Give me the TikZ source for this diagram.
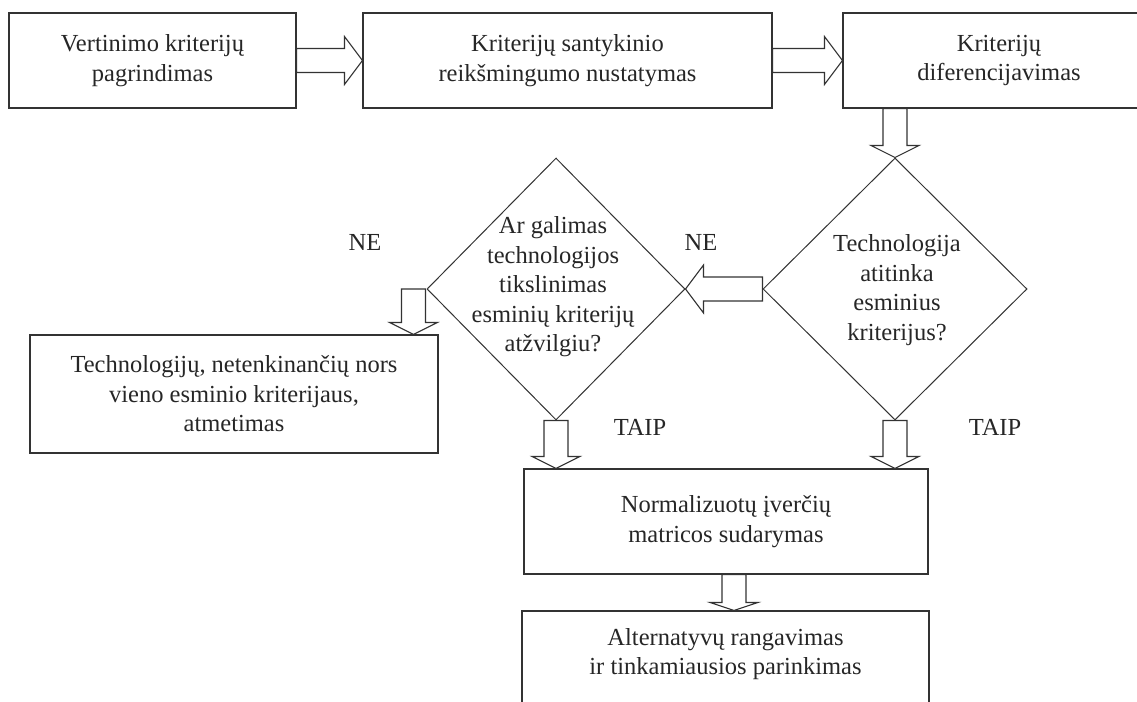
\documentclass[tikz,border=0pt]{standalone}
\usepackage{fontspec}
\setmainfont{Liberation Serif}
\usetikzlibrary{shapes.geometric,calc}

% hollow block arrow: from, to, head length
\newcommand{\fatarrow}[3]{%
  \draw[fat] let \p1=(#1), \p2=(#2),
      \n1={atan2(\y2-\y1,\x2-\x1)}, \n2={veclen(\x2-\x1,\y2-\y1)} in
      [shift={(\p1)}, rotate=\n1]
      (0,-12) -- ({\n2-#3},-12) -- ({\n2-#3},-24) -- (\n2,0)
      -- ({\n2-#3},24) -- ({\n2-#3},12) -- (0,12) -- cycle;}

\tikzset{
  txt/.style={align=center, inner sep=0pt,
    font=\fontsize{24.5}{29.5}\selectfont, text=black!85},
  box/.style={txt, draw=black!80, line width=1.1pt, rectangle},
  decision/.style={draw=black!80, line width=1pt, diamond, inner sep=0pt},
  fat/.style={draw=black!80, line width=1.1pt, fill=white}
}

\begin{document}
\begin{tikzpicture}[x=1pt, y=1pt]
    \useasboundingbox (0,0) rectangle (1137,-701);
    \clip (0,0) rectangle (1137,-701);

    % Top row
    \node [box,
        minimum width=287pt,
        minimum height=95pt]
        (crit) at (152.5,-60.5) {Vertinimo kriterijų\\pagrindimas};
    \node [box,
        minimum width=409pt,
        minimum height=95pt]
        (signif) at (567.5,-60.5) {Kriterijų santykinio\\reikšmingumo nustatymas};
    \node [box,
        minimum width=312pt,
        minimum height=95pt]
        (diff) at (999,-60.5) {Kriterijų\\diferencijavimas};

    % Decisions
    \node [decision,
        minimum width=264pt,
        minimum height=262pt]
        (match) at (895,-289) {};
    \node [decision,
        minimum width=258pt,
        minimum height=262pt]
        (refine) at (556,-289) {};
    \node [txt] (matchtxt) at (897,-290)
        {Technologija\\atitinka\\esminius\\kriterijus?};
    \node [txt] (refinetxt) at (553,-287)
        {Ar galimas\\technologijos\\tikslinimas\\esminių kriterijų\\atžvilgiu?};

    % Lower boxes
    \node [box,
        minimum width=408pt,
        minimum height=118pt]
        (reject) at (234,-394) {Technologijų, netenkinančių nors\\vieno esminio kriterijaus,\\atmetimas};
    \node [box,
        minimum width=404pt,
        minimum height=105pt]
        (norm) at (726,-521.5) {Normalizuotų įverčių\\matricos sudarymas};
    \node [box,
        minimum width=407pt,
        minimum height=110pt]
        (rank) at (725.5,-666) {};
    \node [txt] (ranktxt) at (725.5,-654)
        {Alternatyvų rangavimas\\ir tinkamiausios parinkimas};

    % Labels
    \node [txt] (ne1) at (365,-242) {NE};
    \node [txt] (ne2) at (701,-242) {NE};
    \node [txt] (taip1) at (640,-427) {TAIP};
    \node [txt] (taip2) at (995,-427) {TAIP};

    % Arrows
    \fatarrow{crit.east}{signif.west}{18}
    \fatarrow{signif.east}{diff.west}{18}
    \coordinate (a3s) at (diff.south -| match.north);
    \fatarrow{a3s}{match.north}{12}
    \fatarrow{match.west}{refine.east}{18}
    \coordinate (a5s) at ([xshift=-13pt]refine.west);
    \coordinate (a5e) at (a5s |- reject.north);
    \fatarrow{a5s}{a5e}{12}
    \coordinate (a6e) at (refine.south |- norm.north);
    \fatarrow{refine.south}{a6e}{12}
    \coordinate (a7e) at (match.south |- norm.north);
    \fatarrow{match.south}{a7e}{12}
    \coordinate (a8s) at ([xshift=8pt]norm.south);
    \coordinate (a8e) at (a8s |- rank.north);
    \fatarrow{a8s}{a8e}{8}
\end{tikzpicture}
\end{document}
